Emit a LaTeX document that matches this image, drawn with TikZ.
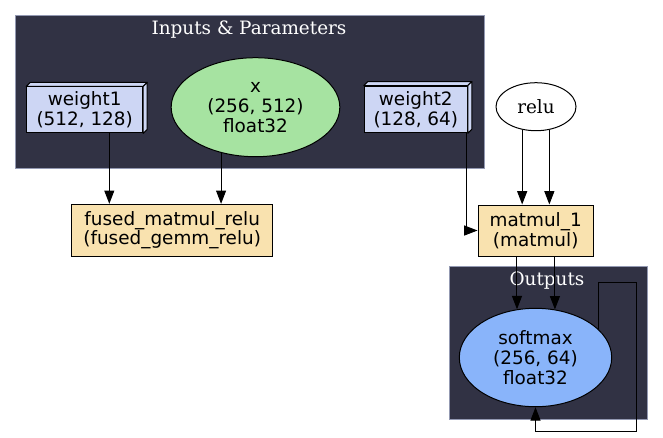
\documentclass[tikz,border=0pt]{standalone}
\usepackage{fontspec}
\setmainfont{DejaVu Sans}
\newfontfamily\labelserif{DejaVu Serif}
\usetikzlibrary{shapes.geometric, arrows.meta, calc}
\definecolor{clusterbg}{HTML}{313244}
\definecolor{clusterline}{HTML}{9399B2}
\definecolor{paramblue}{HTML}{CDD6F4}
\definecolor{inputgreen}{HTML}{A6E3A1}
\definecolor{opyellow}{HTML}{F9E2AF}
\definecolor{outblue}{HTML}{89B4FA}
\tikzset{
    cluster/.style={fill=clusterbg, draw=clusterline, line width=0.5pt},
    cluster_title/.style={font=\labelserif\fontsize{13.8}{15}\selectfont, text=white},
    block_param/.style={rectangle, draw, line width=0.75pt, fill=paramblue, inner sep=0pt, align=center, font=\fontsize{13.8}{14.8}\selectfont},
    block_op/.style={rectangle, draw, line width=0.75pt, fill=opyellow, inner sep=0pt, align=center, font=\fontsize{13.8}{14.6}\selectfont},
    tensor_green/.style={ellipse, draw, line width=0.75pt, fill=inputgreen, inner sep=0pt, align=center, font=\fontsize{13.8}{15}\selectfont},
    tensor_blue/.style={ellipse, draw, line width=0.75pt, fill=outblue, inner sep=0pt, align=center, font=\fontsize{13.8}{15}\selectfont},
    func_node/.style={ellipse, draw, line width=0.75pt, fill=white, inner sep=0pt, font=\labelserif\fontsize{13.8}{15}\selectfont},
    face3d/.style={draw, line width=0.75pt, fill=paramblue, line join=round},
    arrow/.style={-{Triangle[length=10pt, width=7.5pt]}, line width=0.75pt}
}
\begin{document}
\begin{tikzpicture}[x=0.75pt, y=-0.75pt]
            \useasboundingbox (0,0) rectangle (663,437);

            % Clusters
            \draw [cluster] (15,15) rectangle (484,168);
            \node (inputs_title) [cluster_title] at (249,30) {Inputs \& Parameters};
            \draw [cluster] (449,266) rectangle (647,419);
            \node (outputs_title) [cluster_title] at (547,281) {Outputs};

            % Inputs and parameters
            \node (w1) [block_param, minimum width=87pt, minimum height=34.5pt] at (84.7,109.9) {weight1\\(512, 128)};
            \node (w2) [block_param, minimum width=77.25pt, minimum height=35pt] at (415.8,109.4) {weight2\\(128, 64)};
            \foreach \n in {w1, w2} {
                \draw [face3d] (\n.north west) -- ++(4,-4) -- ($(\n.north east)+(4,-4)$) -- (\n.north east) -- cycle;
                \draw [face3d] (\n.north east) -- ++(4,-4) -- ($(\n.south east)+(4,-4)$) -- (\n.south east) -- cycle;
            }
            \node (xin) [tensor_green, minimum width=126.5pt, minimum height=74.25pt] at (255.5,107.2) {x\\(256, 512)\\float32};
            \node (relu) [func_node, minimum width=60pt, minimum height=36pt] at (536,106.7) {relu};

            % Operations
            \node (fused) [block_op, minimum width=150.75pt, minimum height=38.8pt] at (172.2,230.2) {fused\_matmul\_relu\\(fused\_gemm\_relu)};
            \node (matmul) [block_op, minimum width=86.5pt, minimum height=38.25pt] at (535.7,230.5) {matmul\_1\\(matmul)};

            % Output
            \node (softmax) [tensor_blue, minimum width=114.3pt, minimum height=73.8pt] at (535.5,357.5) {softmax\\(256, 64)\\float32};
            \coordinate (loop_top) at (636,282.3);
            \coordinate (loop_bottom) at (636,431);

            % Connections
            \draw [arrow] ($(w1.south)+(24.6,0)$) coordinate (w1out) -- (w1out |- fused.north);
            \draw [arrow] (xin.233.4) -- (xin.233.4 |- fused.north);
            \draw [arrow] ($(w2.south east)+(-1.3,0)$) |- (matmul.west);
            \draw [arrow] (relu.239.5) -- (relu.239.5 |- matmul.north);
            \draw [arrow] (relu.300.5) -- (relu.300.5 |- matmul.north);
            \draw [arrow] (softmax.111.8 |- matmul.south) -- (softmax.111.8);
            \draw [arrow] (softmax.68.2 |- matmul.south) -- (softmax.68.2);
            \draw [arrow] (softmax.24) |- (loop_top) -- (loop_bottom) -| (softmax.south);
\end{tikzpicture}
\end{document}
